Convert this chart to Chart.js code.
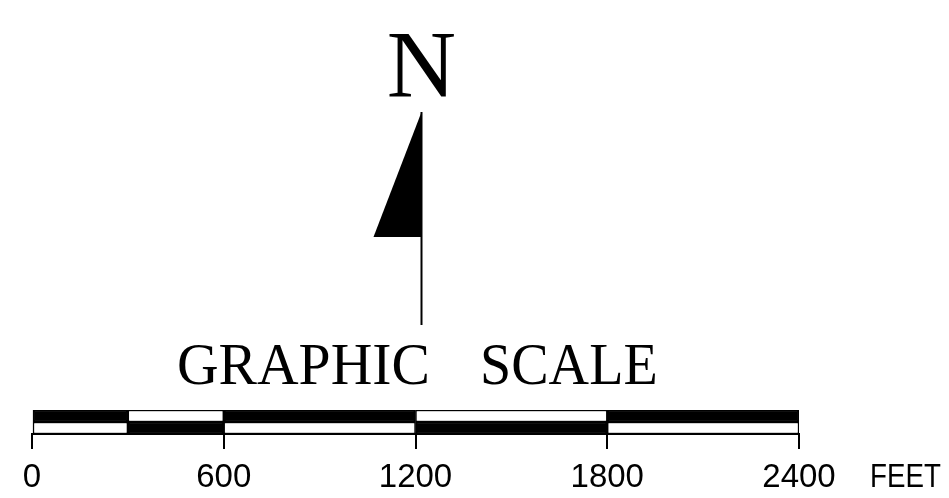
<!DOCTYPE html>
<html>
<head>
<meta charset="utf-8">
<script src="https://cdn.jsdelivr.net/npm/chart.js@4/dist/chart.umd.min.js"></script>
<style>
  body { margin: 0; background: #fff; }
  #scaleChart { display: block; }
</style>
</head>
<body>
<canvas id="scaleChart" width="949" height="498"></canvas>
<script>
// two rows of the bar, alternating black / white
const rows = ['upper', 'lower'];
const breaks = [0, 300, 600, 1200, 1800, 2400];
const tickValues = [0, 600, 1200, 1800, 2400];
const unitLabel = 'FEET';
const titleWords = ['GRAPHIC', 'SCALE'];
const northLabel = 'N';

const datasets = [];
for (let i = 0; i < breaks.length - 1; i++) {
  datasets.push({
    data: rows.map(() => [breaks[i], breaks[i + 1]]),
    backgroundColor: rows.map((r, j) => (i + j) % 2 === 0 ? '#000' : '#fff'),
    borderColor: '#000',
    borderWidth: 1.5,
    borderSkipped: false,
    grouped: false,
    categoryPercentage: 1,
    barPercentage: 1
  });
}

// north arrow + titles, placed from the x scale
const decorations = {
  id: 'decorations',
  afterDraw(chart) {
    const ctx = chart.ctx;
    const x = chart.scales.x;
    const ax = x.getPixelForValue(1200) + 6;
    ctx.save();
    ctx.fillStyle = '#000';
    ctx.strokeStyle = '#000';

    ctx.font = '96px "Liberation Serif"';
    ctx.textAlign = 'center';
    ctx.textBaseline = 'alphabetic';
    ctx.fillText(northLabel, ax, 97);

    ctx.beginPath();
    ctx.moveTo(ax, 112);
    ctx.lineTo(ax - 48, 237);
    ctx.lineTo(ax, 237);
    ctx.closePath();
    ctx.fill();
    ctx.lineWidth = 2;
    ctx.beginPath();
    ctx.moveTo(ax, 112);
    ctx.lineTo(ax, 325);
    ctx.stroke();

    ctx.font = '60px "Liberation Serif"';
    ctx.textAlign = 'left';
    ctx.save();
    ctx.translate(177, 384);
    ctx.scale(0.96, 1);
    ctx.fillText(titleWords[0], 0, 0);
    ctx.restore();
    ctx.save();
    ctx.translate(480, 384);
    ctx.scale(0.935, 1);
    ctx.fillText(titleWords[1], 0, 0);
    ctx.restore();

    ctx.font = '33px "Liberation Sans"';
    ctx.save();
    ctx.translate(x.getPixelForValue(2400) + 71, 487);
    ctx.scale(0.84, 1);
    ctx.fillText(unitLabel, 0, 0);
    ctx.restore();
    ctx.restore();
  }
};

new Chart(document.getElementById('scaleChart'), {
  type: 'bar',
  data: { labels: rows, datasets: datasets },
  options: {
    indexAxis: 'y',
    responsive: false,
    animation: false,
    devicePixelRatio: 1,
    layout: { padding: { left: 32, right: 150, top: 410, bottom: 4 } },
    plugins: { legend: { display: false }, tooltip: { enabled: false } },
    scales: {
      x: {
        type: 'linear',
        min: 0,
        max: 2400,
        afterBuildTicks: (scale) => { scale.ticks = tickValues.map(v => ({ value: v })); },
        afterFit: (scale) => { scale.height = 60; },
        ticks: {
          color: '#000',
          font: { family: 'Liberation Sans', size: 33 },
          padding: 9,
          maxRotation: 0,
          autoSkip: false,
          callback: (v) => String(v)
        },
        grid: { drawOnChartArea: false, drawTicks: true, tickLength: 15, color: '#000', lineWidth: 2 },
        border: { display: true, color: '#000', width: 2 }
      },
      y: { type: 'category', display: false }
    }
  },
  plugins: [decorations]
});
</script>
</body>
</html>
